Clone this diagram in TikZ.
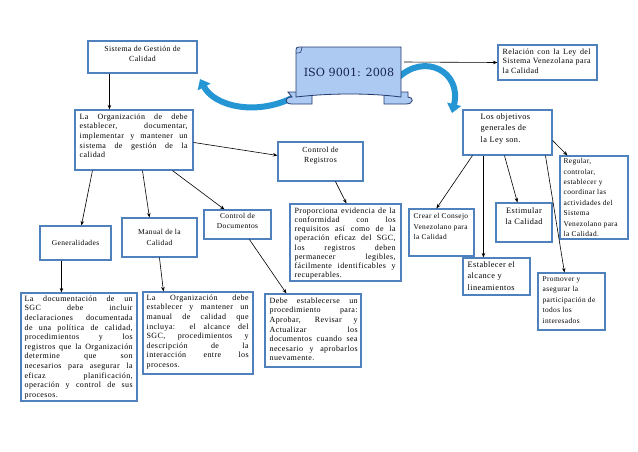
\documentclass[tikz,border=0pt]{standalone}
\usepackage{fontspec}
\setmainfont{Liberation Serif}[LetterSpace=5]
\newfontfamily\isofont{DejaVu Serif}
\usetikzlibrary{fit,calc,arrows.meta}
\definecolor{boxline}{RGB}{79,129,189}
\definecolor{banfill}{RGB}{172,202,242}
\definecolor{banline}{RGB}{38,58,110}
\definecolor{isotext}{RGB}{25,35,80}
\definecolor{curv}{RGB}{36,150,212}
\begin{document}
\begin{tikzpicture}[x=1pt,y=-1pt,
 box/.style={draw=boxline,line width=1.1pt,fill=white,inner sep=0pt},
 txt/.style={inner sep=0pt,font=\fontsize{8}{9.6}\selectfont,align=justify},
 txl/.style={inner sep=0pt,font=\fontsize{7.4}{10.4}\selectfont,align=left},
 txc/.style={inner sep=0pt,font=\fontsize{7.8}{10.6}\selectfont,align=center},
 big/.style={inner sep=0pt,font=\fontsize{8.3}{11.5}\selectfont,align=left},
 con/.style={draw=black,line width=0.6pt,-{Stealth[length=4.5pt,width=3.5pt]}},
 curved/.style={draw=curv,line width=6pt,-{Triangle[length=9pt,width=14pt]}},
 ban/.style={fill=banfill,draw=banline,line width=0.8pt}]
\useasboundingbox[fill=white] (0,0) rectangle (638,451);

% curved arrows behind the banner
\draw[curved] (292,98) .. controls (255,116) and (214,106) .. (200,79);
\draw[curved] (398,78) .. controls (425,52) and (462,72) .. (452,113);

% banner
\filldraw[ban] (288,92) -- (312,92) -- (312,104) -- (292,104) .. controls (284,104) and (284,97) .. (292,97) -- cycle;
\filldraw[ban] (384,92) -- (408,92) -- (408,97) .. controls (414,97) and (414,104) .. (406,104) -- (384,104) -- cycle;
\filldraw[ban] (296,53) .. controls (296,47) .. (302,47) -- (401,47) -- (401,97) .. controls (370,93) and (330,93) .. (296,97) -- cycle;
\draw[banline,line width=0.6pt] (296,53) .. controls (301,53) .. (302,47);
\node[inner sep=0pt,text=isotext,font=\isofont\fontsize{11.2}{13}\selectfont] (iso) at (349,72) {ISO 9001: 2008};
\coordinate (isoR) at (404,62);

% boxes
\node[box,fit={(88,41)(197,73)}] (sgc) {};
\node[box,fit={(498,45)(597,80)}] (rel) {};
\node[box,fit={(75,110)(193,170)}] (org) {};
\node[box,fit={(278,142)(363,181)}] (creg) {};
\node[box,fit={(463,110)(552,155)}] (obj) {};
\node[box,fit={(560,156)(628,239)}] (reg) {};
\node[box,fit={(290,204)(401,281)}] (prop) {};
\node[box,fit={(204,210)(271,239)}] (cdoc) {};
\node[box,fit={(122,218)(197,257)}] (man) {};
\node[box,fit={(40,226)(111,260)}] (gen) {};
\node[box,fit={(409,209)(474,256)}] (crear) {};
\node[box,fit={(496,203)(552,242)}] (estim) {};
\node[box,fit={(463,258)(530,295)}] (estab) {};
\node[box,fit={(538,273)(605,330)}] (prom) {};
\node[box,fit={(21,293)(137,401)}] (doc) {};
\node[box,fit={(143,292)(253,374)}] (orgd) {};
\node[box,fit={(265,294)(361,367)}] (debe) {};

% texts
\node[txc,anchor=north] (sgc-t) at ($(sgc.north)+(0,5)$) {Sistema de Gestión de\\Calidad};
\node[txt,text width=88pt,anchor=north west] (rel-t) at ($(rel.north west)+(5,4)$) {Relación con la Ley del\linebreak Sistema Venezolana para\linebreak la Calidad};
\node[txt,text width=108pt,anchor=north west] (org-t) at ($(org.north west)+(5,4)$) {La Organización de debe\linebreak establecer, documentar,\linebreak implementar y mantener un\linebreak sistema de gestión de la\linebreak calidad};
\node[txc,anchor=north] (creg-t) at ($(creg.north)+(0,5)$) {Control de\\Registros};
\node[big,anchor=north west] (obj-t) at ($(obj.north west)+(18,4)$) {Los objetivos\\generales de\\la Ley son.};
\node[txl,anchor=north west] (reg-t) at ($(reg.north west)+(4,3)$) {Regular,\\controlar,\\establecer y\\coordinar las\\actividades del\\Sistema\\Venezolano para\\la Calidad.};
\node[txt,text width=101pt,anchor=north west,font=\fontsize{8}{9.2}\selectfont] (prop-t) at ($(prop.north west)+(5,4)$) {Proporciona evidencia de la\linebreak conformidad con los\linebreak requisitos así como de la\linebreak operación eficaz del SGC,\linebreak los registros deben\linebreak permanecer legibles,\linebreak fácilmente identificables y\linebreak recuperables.};
\node[txc,anchor=north,font=\fontsize{7.5}{10}\selectfont] (cdoc-t) at ($(cdoc.north)+(0,4)$) {Control de\\Documentos};
\node[txc,font=\fontsize{7.5}{10.5}\selectfont] (man-t) at (man.center) {Manual de la\\Calidad};
\node[txc,font=\fontsize{7.5}{10}\selectfont] (gen-t) at (gen.center) {Generalidades};
\node[txl,anchor=north west] (crear-t) at ($(crear.north west)+(5,5)$) {Crear el Consejo\\Venezolano para\\la Calidad};
\node[big,align=center,anchor=north] (estim-t) at ($(estim.north)+(0,5)$) {Estimular\\la Calidad};
\node[big,anchor=north west] (estab-t) at ($(estab.north west)+(5,4)$) {Establecer el\\alcance y\\lineamientos};
\node[txl,anchor=north west] (prom-t) at ($(prom.north west)+(5,4)$) {Promover y\\asegurar la\\participación de\\todos los\\interesados};
\node[txt,text width=108pt,anchor=north west] (doc-t) at ($(doc.north west)+(4,3)$) {La documentación de un\linebreak SGC debe incluir\linebreak declaraciones documentada\linebreak de una política de calidad,\linebreak procedimientos y los\linebreak registros que la Organización\linebreak determine que son\linebreak necesarios para asegurar la\linebreak eficaz planificación,\linebreak operación y control de sus\linebreak procesos.};
\node[txt,text width=102pt,anchor=north west] (orgd-t) at ($(orgd.north west)+(4,3)$) {La Organización debe\linebreak establecer y mantener un\linebreak manual de calidad que\linebreak incluya: el alcance del\linebreak SGC, procedimientos y\linebreak descripción de la\linebreak interacción entre los\linebreak procesos.};
\node[txt,text width=88pt,anchor=north west] (debe-t) at ($(debe.north west)+(5,4)$) {Debe establecerse un\linebreak procedimiento para:\linebreak Aprobar, Revisar y\linebreak Actualizar los\linebreak documentos cuando sea\linebreak necesario y aprobarlos\linebreak nuevamente.};

% connectors
\draw[con] (isoR) -- (rel.west);
\draw[con] ($(sgc.south west)+(22,0)$) -- ($(org.north west)+(35,0)$);
\draw[con] ($(org.north east)+(0,33)$) -- ($(creg.north west)+(0,14)$);
\draw[con] ($(org.south west)+(18,0)$) -- ($(gen.north west)+(42,0)$);
\draw[con] ($(org.south west)+(68,0)$) -- ($(man.north west)+(28,0)$);
\draw[con] ($(org.south west)+(98,0)$) -- ($(cdoc.north west)+(21,0)$);
\draw[con] ($(creg.south west)+(58,0)$) -- ($(prop.north west)+(57,0)$);
\draw[con] ($(gen.south west)+(22,0)$) -- ($(doc.north west)+(41,0)$);
\draw[con] ($(man.south west)+(38,0)$) -- ($(orgd.north west)+(21,0)$);
\draw[con] ($(cdoc.south west)+(46,0)$) -- ($(debe.north west)+(22,0)$);
\draw[con] ($(obj.south west)+(10,0)$) -- ($(crear.north west)+(28,0)$);
\draw[con] ($(obj.south west)+(21,0)$) -- ($(estab.north west)+(21,0)$);
\draw[con] ($(obj.south west)+(42,0)$) -- ($(estim.north west)+(22,0)$);
\draw[con] ($(obj.south west)+(83,0)$) -- ($(prom.north west)+(27,0)$);
\draw[con] ($(obj.north east)+(0,31)$) -- ($(reg.north west)+(8,0)$);
\end{tikzpicture}
\end{document}
